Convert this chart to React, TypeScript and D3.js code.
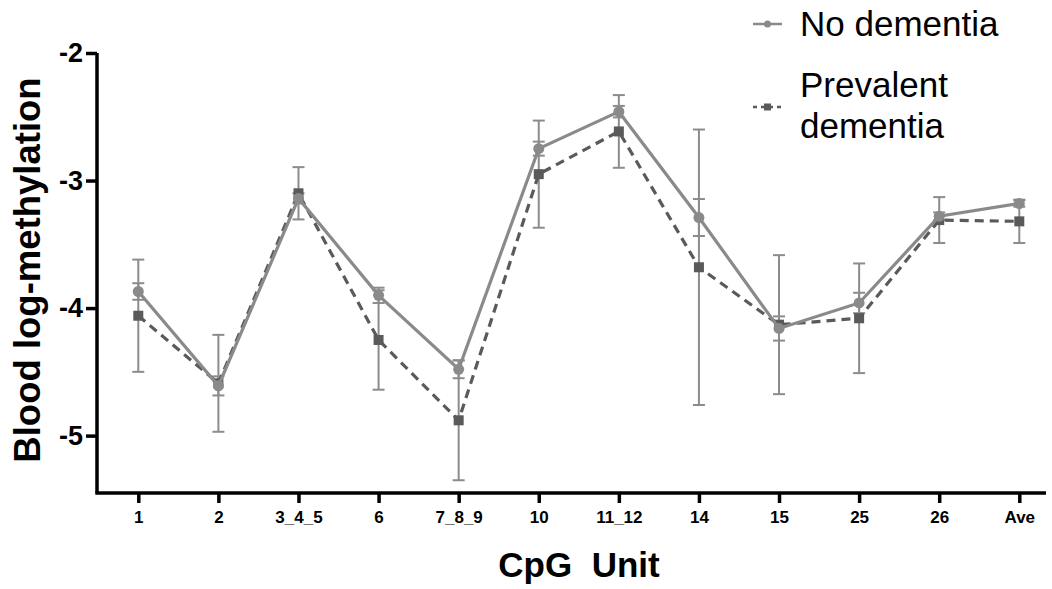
import React, { useEffect, useRef } from "react";
import * as d3 from "d3";

const categories = ["1", "2", "3_4_5", "6", "7_8_9", "10", "11_12", "14", "15", "25", "26", "Ave"];
const noDementia = [-3.87, -4.61, -3.14, -3.9, -4.48, -2.75, -2.46, -3.29, -4.16, -3.96, -3.28, -3.18];
const noDementiaErr = [0.065, 0.075, 0.04, 0.06, 0.07, 0.055, 0.045, 0.145, 0.095, 0.08, 0.03, 0.025];
const prevalent = [-4.06, -4.59, -3.1, -4.25, -4.88, -2.95, -2.615, -3.68, -4.13, -4.08, -3.31, -3.32];
const prevalentErr = [0.44, 0.38, 0.205, 0.39, 0.47, 0.42, 0.285, 1.08, 0.545, 0.43, 0.18, 0.17];
const yTicks = [-2, -3, -4, -5];

const App = () => {
  const svgRef = useRef<SVGSVGElement>(null);

  useEffect(() => {
    const width = 1052;
    const height = 589;
    const svg = d3.select(svgRef.current).attr("width", width).attr("height", height);
    svg.selectAll("*").remove();

    const font = "Liberation Sans, Arial, Helvetica, sans-serif";
    const x = d3.scalePoint<string>().domain(categories).range([138.3, 1019.3]);
    const y = d3.scaleLinear().domain([-5.45, -2]).range([493, 53]);

    const errCol = "#8c8c8c";
    const noCol = "#8a8a8a";
    const prevCol = "#5a5a5a";

    // axes
    const yAxis = svg
      .append("g")
      .attr("transform", "translate(97,0)")
      .call(
        d3
          .axisLeft(y)
          .tickValues(yTicks)
          .tickSize(11)
          .tickPadding(3)
          .tickFormat((d) => `${d}`)
      );
    yAxis.select(".domain").attr("stroke", "#000").attr("stroke-width", 3.5).attr("d", `M0,${y(-2)}V${y.range()[0]}`);
    yAxis.selectAll(".tick line").attr("stroke", "#000").attr("stroke-width", 3.5);
    yAxis
      .selectAll(".tick text")
      .attr("font-family", font)
      .attr("font-weight", "bold")
      .attr("font-size", 27)
      .attr("fill", "#000");

    const xAxis = svg
      .append("g")
      .attr("transform", "translate(0,493)")
      .call(d3.axisBottom(x).tickSize(10).tickPadding(8));
    xAxis.select(".domain").attr("stroke", "#000").attr("stroke-width", 3.5).attr("d", "M95.3,0H1046");
    xAxis.selectAll(".tick line").attr("stroke", "#000").attr("stroke-width", 3.5);
    xAxis
      .selectAll(".tick text")
      .attr("font-family", font)
      .attr("font-weight", "bold")
      .attr("font-size", 17)
      .attr("fill", "#000");

    // titles
    svg
      .append("text")
      .attr("transform", "translate(40,270) rotate(-90)")
      .attr("text-anchor", "middle")
      .attr("font-family", font)
      .attr("font-weight", "bold")
      .attr("font-size", 36.5)
      .text("Blood log-methylation");

    svg
      .append("text")
      .attr("x", 579)
      .attr("y", 577)
      .attr("text-anchor", "middle")
      .attr("font-family", font)
      .attr("font-weight", "bold")
      .attr("font-size", 35)
      .style("white-space", "pre")
      .text("CpG  Unit");

    const line = d3
      .line<number>()
      .x((_, i) => x(categories[i])!)
      .y((d) => y(d));

    const drawErr = (vals: number[], errs: number[]) => {
      const g = svg.append("g").attr("stroke", errCol).attr("stroke-width", 2).attr("fill", "none");
      vals.forEach((v, i) => {
        const cx = x(categories[i])!;
        const top = y(v + errs[i]);
        const bot = y(v - errs[i]);
        g.append("line").attr("x1", cx).attr("x2", cx).attr("y1", top).attr("y2", bot);
        g.append("line").attr("x1", cx - 6).attr("x2", cx + 6).attr("y1", top).attr("y2", top);
        g.append("line").attr("x1", cx - 6).attr("x2", cx + 6).attr("y1", bot).attr("y2", bot);
      });
    };

    drawErr(prevalent, prevalentErr);
    drawErr(noDementia, noDementiaErr);

    // prevalent dementia
    svg
      .append("path")
      .attr("d", line(prevalent))
      .attr("fill", "none")
      .attr("stroke", prevCol)
      .attr("stroke-width", 3.2)
      .attr("stroke-dasharray", "9,6");
    svg
      .selectAll(".sq")
      .data(prevalent)
      .enter()
      .append("rect")
      .attr("x", (_, i) => x(categories[i])! - 5)
      .attr("y", (d) => y(d) - 5)
      .attr("width", 10)
      .attr("height", 10)
      .attr("fill", prevCol);

    // no dementia
    svg
      .append("path")
      .attr("d", line(noDementia))
      .attr("fill", "none")
      .attr("stroke", noCol)
      .attr("stroke-width", 3.2);
    svg
      .selectAll(".ci")
      .data(noDementia)
      .enter()
      .append("circle")
      .attr("cx", (_, i) => x(categories[i])!)
      .attr("cy", (d) => y(d))
      .attr("r", 5.5)
      .attr("fill", noCol);

    // legend
    const lg = svg.append("g");
    lg.append("line").attr("x1", 753).attr("x2", 782).attr("y1", 24).attr("y2", 24).attr("stroke", noCol).attr("stroke-width", 2.5);
    lg.append("circle").attr("cx", 767.5).attr("cy", 24).attr("r", 3.5).attr("fill", noCol);
    lg.append("line")
      .attr("x1", 753)
      .attr("x2", 782)
      .attr("y1", 107)
      .attr("y2", 107)
      .attr("stroke", prevCol)
      .attr("stroke-width", 2.5)
      .attr("stroke-dasharray", "4,4");
    lg.append("rect").attr("x", 764).attr("y", 103.5).attr("width", 7).attr("height", 7).attr("fill", prevCol);
    const lt = [
      { t: "No dementia", y: 36 },
      { t: "Prevalent", y: 97 },
      { t: "dementia", y: 138 },
    ];
    lg.selectAll("text")
      .data(lt)
      .enter()
      .append("text")
      .attr("x", 800)
      .attr("y", (d) => d.y)
      .attr("font-family", font)
      .attr("font-size", 35)
      .attr("fill", "#000")
      .text((d) => d.t);
  }, []);

  return <svg ref={svgRef} style={{ position: "absolute", left: 0, top: 0 }}></svg>;
};

export default App;
